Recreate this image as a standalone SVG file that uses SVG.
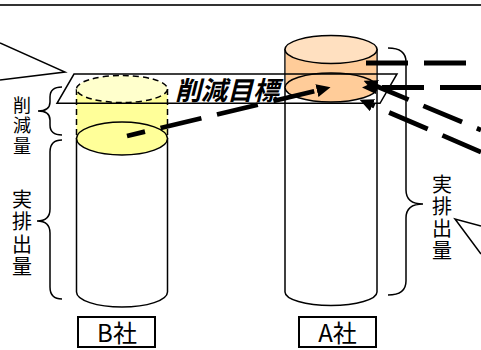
<svg xmlns="http://www.w3.org/2000/svg" width="481" height="350" viewBox="0 0 481 350">
<defs>
<style>
.ln{fill:none;stroke:#000;stroke-width:1.5}
.bx{fill:none;stroke:#000;stroke-width:2}
.cy{stroke:#000;stroke-width:1.5}
.dsh{stroke:#000;stroke-width:1.5;stroke-dasharray:6 4}
.cj{font-family:"Noto Sans CJK JP","Noto Sans CJK SC",sans-serif;fill:#000}
.vt{writing-mode:vertical-rl;text-orientation:upright}
.conn{fill:none;stroke:#000;stroke-width:4.8;stroke-dasharray:42 16}
</style>
<marker id="ah" markerUnits="userSpaceOnUse" markerWidth="14" markerHeight="13" viewBox="0 0 14 13" refX="0.5" refY="6.5" orient="auto">
<path d="M0,0 L14,6.5 L0,13 Z" fill="#000"/>
</marker>
</defs>
<rect width="481" height="350" fill="#fff"/>
<line x1="0" y1="5" x2="481" y2="5" stroke="#333" stroke-width="2"/>
<g id="callout-left"><polyline class="ln" points="0,43 65,72 0,80"/></g>
<g id="callout-right"><polyline class="ln" points="481,226 455,219 481,254"/></g>
<g id="cylinder-b">
<path class="cy" fill="#fff" d="M76.5,138.5 L76.5,292 A45.5,15 0 0 0 167.5,292 L167.5,138.5 Z"/>
<rect x="76.5" y="89" width="91" height="49.5" fill="#FFFF99"/>
<line class="dsh" x1="76.5" y1="89" x2="76.5" y2="138.5"/>
<line class="dsh" x1="167.5" y1="89" x2="167.5" y2="138.5"/>
<ellipse class="dsh" cx="122" cy="89" rx="45.5" ry="13.5" fill="#FFFFCC"/>
<ellipse class="cy" cx="122" cy="138.5" rx="45.5" ry="16.5" fill="#FFFF99"/>
</g>
<g id="cylinder-a">
<path class="cy" fill="#fff" d="M285,49.5 L285,292 A46,13.5 0 0 0 377,292 L377,49.5 Z"/>
<rect x="285.75" y="49.5" width="90.5" height="38" fill="#FFCC99"/>
<ellipse class="cy" cx="331" cy="49.5" rx="46" ry="14" fill="#FFE0C0"/>
<ellipse class="cy" cx="331" cy="87.5" rx="46" ry="14.5" fill="#FFCC99"/>
</g>
<g id="target-band">
<polygon class="ln" points="74,74 397,74 380,103.3 57,103.3"/>
<text class="cj" x="227" y="100" font-size="26" font-weight="bold" font-style="italic" text-anchor="middle">削減目標</text>
</g>
<g id="braces">
<path class="ln" d="M62,87 Q50,87 50,97 L50,102 Q50,111 38,111 Q50,111 50,120 L50,125 Q50,135 62,135"/>
<path class="ln" d="M62,140 Q50,140 50,152 L50,209 Q50,221 37,221 Q50,221 50,233 L50,287 Q50,299 62,299"/>
<path class="ln" d="M388,48 Q406,48 406,62 L406,190 Q406,204 423,204 Q406,204 406,218 L406,281 Q406,295 388,295"/>
</g>
<g id="label-reduction">
<text class="cj vt" x="22" y="96" font-size="18" letter-spacing="2.5">削減量</text>
</g>
<g id="label-actual-left">
<text class="cj vt" x="22" y="189" font-size="20" letter-spacing="2.5">実排出量</text>
</g>
<g id="label-actual-right">
<text class="cj vt" x="442" y="174" font-size="20" letter-spacing="2">実排出量</text>
</g>
<g id="company-b">
<rect class="bx" x="78" y="317" width="77" height="30"/>
<text class="cj" x="117" y="342" font-size="24" text-anchor="middle">B社</text>
</g>
<g id="company-a">
<rect class="bx" x="299" y="317" width="77" height="30"/>
<text class="cj" x="337.5" y="342" font-size="24" text-anchor="middle">A社</text>
</g>
<g id="connectors">
<path class="conn" d="M127,136 L317.4,90.5" stroke-dashoffset="23.5" marker-end="url(#ah)"/>
<path class="conn" d="M481,87.5 L375.5,87.5" stroke-dashoffset="1" marker-end="url(#ah)"/>
<path class="conn" d="M481,130 L376,86" stroke-dashoffset="37.5" marker-end="url(#ah)"/>
<path class="conn" d="M481,152 L372,105.1" marker-end="url(#ah)"/>
<path class="conn" d="M366,63 L481,63" stroke-dasharray="42 17"/>
</g>
</svg>
